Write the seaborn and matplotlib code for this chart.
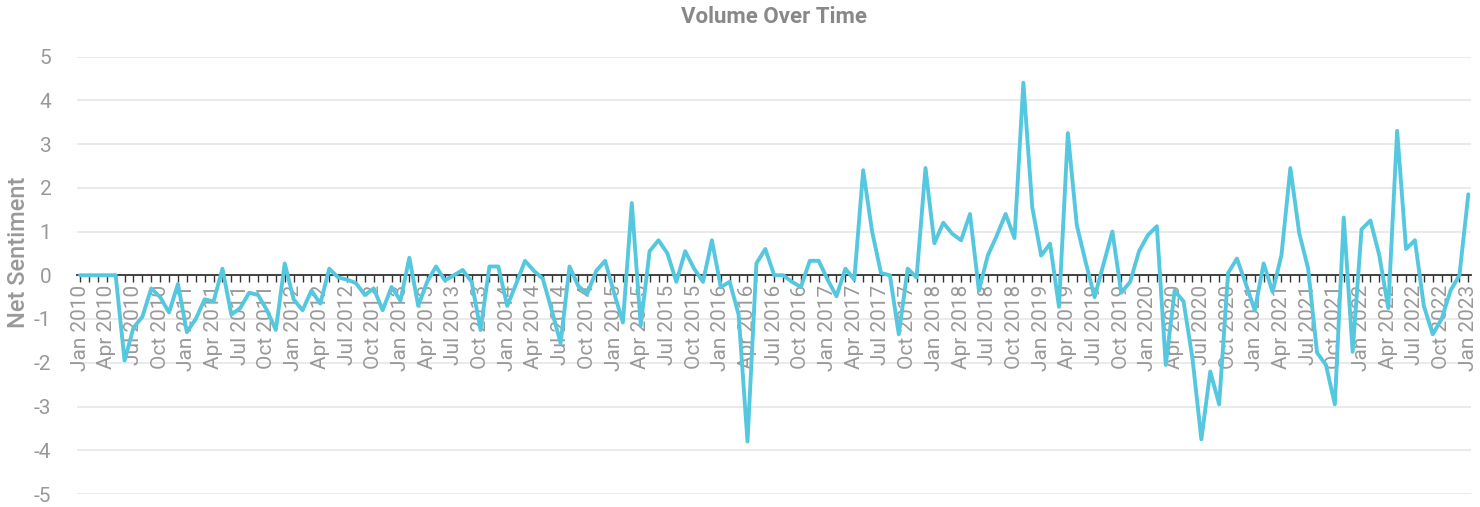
import matplotlib
matplotlib.use("Agg")
import matplotlib.pyplot as plt
import seaborn as sns
import pandas as pd
import numpy as np

# ---- data ----
months = pd.date_range("2010-01-01", periods=157, freq="MS")
net_sentiment = [
    0.0, 0.0, 0.0, 0.0, 0.0, -1.95, -1.2, -0.95, -0.3, -0.5,
    -0.85, -0.2, -1.3, -1.0, -0.55, -0.6, 0.15, -0.9, -0.75, -0.4,
    -0.45, -0.8, -1.25, 0.27, -0.55, -0.8, -0.35, -0.65, 0.15, -0.05,
    -0.1, -0.18, -0.45, -0.3, -0.8, -0.27, -0.58, 0.4, -0.7, -0.15,
    0.2, -0.12, 0.0, 0.12, -0.15, -1.25, 0.2, 0.2, -0.7, -0.2,
    0.33, 0.1, -0.08, -0.8, -1.55, 0.2, -0.25, -0.42, 0.1, 0.33,
    -0.4, -1.08, 1.65, -1.15, 0.55, 0.8, 0.5, -0.15, 0.55, 0.15,
    -0.15, 0.8, -0.27, -0.15, -0.9, -3.8, 0.27, 0.6, 0.0, 0.0,
    -0.15, -0.27, 0.33, 0.33, -0.1, -0.48, 0.15, -0.1, 2.4, 1.0,
    0.05, 0.0, -1.35, 0.15, -0.05, 2.45, 0.73, 1.2, 0.95, 0.8,
    1.4, -0.35, 0.45, 0.9, 1.4, 0.85, 4.4, 1.55, 0.45, 0.72,
    -0.72, 3.25, 1.15, 0.3, -0.5, 0.25, 1.0, -0.4, -0.15, 0.55,
    0.92, 1.12, -2.05, -0.35, -0.6, -1.9, -3.75, -2.2, -2.95, 0.05,
    0.38, -0.2, -0.8, 0.27, -0.38, 0.46, 2.45, 0.96, 0.15, -1.77,
    -2.05, -2.95, 1.32, -1.75, 1.05, 1.25, 0.45, -0.75, 3.3, 0.6,
    0.8, -0.7, -1.35, -1.0, -0.35, 0.0, 1.85,
]
month_index = list(range(len(months)))
tick_positions = month_index[::3]
tick_labels = [months[i].strftime("%b %Y") for i in tick_positions]
y_ticks = [-5, -4, -3, -2, -1, 0, 1, 2, 3, 4, 5]

df = pd.DataFrame({"month": month_index, "net": net_sentiment})

# ---- style ----
sns.set_theme(style="white")
plt.rcParams["font.family"] = ["Roboto", "DejaVu Sans"]

fig = plt.figure(figsize=(14.8, 5.07), dpi=100)
ax = fig.add_axes([76.5 / 1480, 1 - 494 / 507, (1471 - 76.5) / 1480, (494 - 56.5) / 507])

for yv in y_ticks:
    if yv != 0:
        ax.axhline(yv, color="#e8e8e8", lw=1.3, zorder=0)

sns.lineplot(data=df, x="month", y="net", ax=ax, color="#55c8df", lw=2.8, zorder=3)

ax.set_xlim(-0.4, 156.3)
ax.set_ylim(-5, 5)

for s in ["top", "right", "left"]:
    ax.spines[s].set_visible(False)
ax.spines["bottom"].set_position(("data", 0))
ax.spines["bottom"].set_color("#333333")
ax.spines["bottom"].set_linewidth(1.3)
ax.spines["bottom"].set_zorder(2)

ax.set_xticks(month_index, minor=True)
ax.set_xticks(tick_positions)
ax.set_xticklabels(tick_labels, rotation=90, color="#999999", fontsize=15)
ax.tick_params(axis="x", which="both", direction="out", length=5, width=1.0,
               color="#333333", pad=2, bottom=True)
ax.tick_params(axis="x", which="minor", length=5)

ax.set_yticks(y_ticks)
ax.set_yticklabels([str(v) for v in y_ticks], color="#999999", fontsize=15)
ax.tick_params(axis="y", length=0, pad=18)

ax.set_xlabel("")
ax.set_ylabel("Net Sentiment", color="#999999", fontsize=17, fontweight="medium",
              va="center", ha="center")
ax.yaxis.set_label_coords((19 - 76.5) / 1394.5, (494 - 252) / 437.5)
ax.set_title("Volume Over Time", color="#888888", fontsize=16, fontweight="bold", pad=24)

fig.savefig("out.png", dpi=100)
